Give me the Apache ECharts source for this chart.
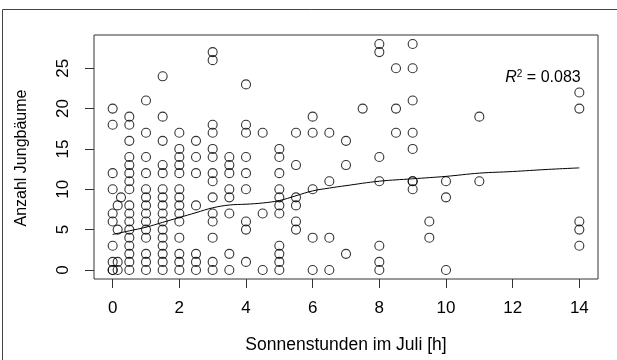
<!DOCTYPE html>
<html>
<head>
<meta charset="utf-8">
<script src="https://cdn.jsdelivr.net/npm/echarts@6/dist/echarts.min.js"></script>
<style>
  html, body { margin: 0; padding: 0; background: #fff; }
  #chart { width: 617px; height: 360px; }
</style>
</head>
<body>
<div id="chart"></div>
<script>
// Sun hours in July (x) and, for each, the sapling counts observed there
const sunHours = [0, 0.15, 0.25, 0.5, 1, 1.5, 2, 2.5, 3, 3.5, 4, 4.5, 5, 5.5, 6, 6.5, 7, 7.5, 8, 8.5, 9, 9.5, 10, 11, 14];
const saplingCounts = [
  [20, 18, 12, 10, 7, 6, 3, 1, 0, 0],
  [8, 5, 1, 0],
  [9],
  [19, 18, 16, 14, 13, 12, 11, 10, 8, 7, 6, 5, 4, 3, 2, 1, 0],
  [21, 17, 14, 12, 10, 9, 8, 7, 6, 5, 4, 2, 1, 0],
  [24, 19, 16, 13, 12, 10, 9, 8, 7, 6, 5, 4, 3, 2, 1, 0],
  [17, 15, 14, 13, 12, 10, 9, 8, 7, 6, 4, 2, 1, 0],
  [16, 14, 12, 8, 2, 1, 0],
  [27, 26, 18, 17, 15, 14, 12, 11, 9, 7, 6, 4, 1, 0],
  [14, 13, 12, 10, 9, 7, 2, 0],
  [23, 18, 17, 14, 12, 10, 6, 5, 1],
  [17, 7, 0],
  [15, 14, 12, 10, 9, 8, 7, 3, 2, 1, 0],
  [17, 13, 9, 8, 6, 5],
  [19, 17, 10, 4, 0],
  [17, 11, 4, 0],
  [16, 13, 2],
  [20],
  [28, 27, 14, 11, 3, 1, 0],
  [25, 20, 17],
  [28, 25, 21, 17, 15, 11, 11, 10],
  [6, 4],
  [11, 9, 0],
  [19, 11],
  [22, 20, 6, 5, 3]
];

// Loess smooth of the counts against sun hours
const smoothX = [0, 0.5, 1, 1.5, 2, 2.5, 3, 3.5, 4, 4.5, 5, 5.5, 6, 6.5, 7, 8, 9, 10, 11, 12, 13, 14];
const smoothY = [4.4, 4.85, 5.3, 5.9, 6.5, 7.1, 7.7, 8.05, 8.15, 8.3, 8.6, 9.2, 9.8, 10.15, 10.45, 11.0, 11.3, 11.6, 12.0, 12.2, 12.45, 12.65];

// Tick labels
const xTicks = [0, 2, 4, 6, 8, 10, 12, 14];
const yTicks = [0, 5, 10, 15, 20, 25];

const xTitle = 'Sonnenstunden im Juli [h]';
const yTitle = 'Anzahl Jungbäume';
const rSquared = '0.083';

const points = [];
sunHours.forEach((h, i) => {
  saplingCounts[i].forEach(c => points.push([h, c]));
});
const smoothLine = smoothX.map((x, i) => [x, smoothY[i]]);

const FONT = '"Liberation Sans", Arial, Helvetica, sans-serif';
const chart = echarts.init(document.getElementById('chart'), null, { renderer: 'canvas' });

chart.setOption({
  animation: false,
  backgroundColor: '#fff',
  grid: {
    left: 94, top: 35, width: 504, height: 244,
    show: true, borderColor: '#333', borderWidth: 1, backgroundColor: 'transparent'
  },
  xAxis: {
    type: 'value',
    min: -0.56, max: 14.56,
    axisLine: { show: false, onZero: false },
    splitLine: { show: false },
    axisTick: { show: true, length: 9, customValues: xTicks, lineStyle: { color: '#333', width: 1 } },
    axisLabel: { customValues: xTicks, margin: 21, fontSize: 17, color: '#000', fontFamily: FONT }
  },
  yAxis: {
    type: 'value',
    min: -1.12, max: 29.12,
    axisLine: { show: false, onZero: false },
    splitLine: { show: false },
    axisTick: { show: true, length: 9, customValues: yTicks, lineStyle: { color: '#333', width: 1 } },
    axisLabel: { customValues: yTicks, rotate: 90, margin: 22, fontSize: 17, color: '#000', fontFamily: FONT }
  },
  series: [
    {
      type: 'scatter',
      data: points,
      symbol: 'circle',
      symbolSize: 9,
      itemStyle: { color: 'rgba(0,0,0,0)', borderColor: '#000', borderWidth: 1.1 },
      emphasis: { disabled: true },
      silent: true,
      z: 3
    },
    {
      type: 'line',
      data: smoothLine,
      smooth: 0.4,
      symbol: 'none',
      lineStyle: { color: '#000', width: 1 },
      silent: true,
      z: 4
    }
  ],
  graphic: [
    {
      type: 'rect',
      shape: { x: 2.5, y: 9.5, width: 800, height: 600 },
      style: { fill: 'none', stroke: '#444', lineWidth: 1 },
      silent: true
    },
    {
      type: 'text',
      x: 346, y: 345,
      style: { text: xTitle, font: '17.5px ' + FONT, fill: '#000', align: 'center', verticalAlign: 'middle' }
    },
    {
      type: 'text',
      x: 22, y: 158,
      rotation: Math.PI / 2,
      style: { text: yTitle, font: '16px ' + FONT, fill: '#000', align: 'center', verticalAlign: 'middle' }
    },
    {
      type: 'text',
      x: 543, y: 78,
      style: {
        text: '{r|R}{s|2}{e| = ' + rSquared + '}',
        align: 'center', verticalAlign: 'middle',
        rich: {
          r: { fontFamily: FONT, fontSize: 16, fontStyle: 'italic', color: '#000' },
          s: { fontFamily: FONT, fontSize: 10, color: '#000', verticalAlign: 'top', padding: [0, 0, 8, 0] },
          e: { fontFamily: FONT, fontSize: 16, color: '#000' }
        }
      }
    }
  ]
});
</script>
</body>
</html>
